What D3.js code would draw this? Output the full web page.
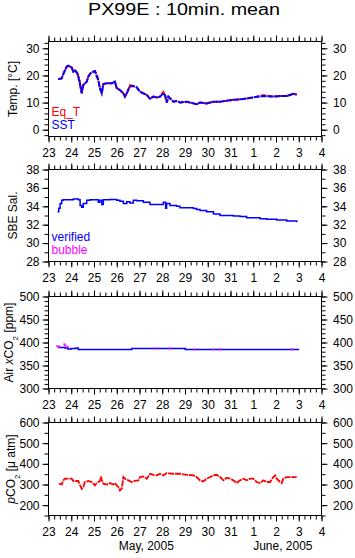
<!DOCTYPE html>
<html>
<head>
<meta charset="utf-8">
<script src="https://cdn.jsdelivr.net/npm/d3@7"></script>
<style>
  body { margin: 0; background: #fff; }
  svg { display: block; font-family: "Liberation Sans", Arial, sans-serif; }
  .tick text { font-size: 12px; fill: #000; }
</style>
</head>
<body>
<svg id="chart" width="355" height="558"></svg>
<script>
/**********************
 Data (day of May 2005)
**********************/
// temperature panel
var tempDay = [23.43, 23.58, 23.65, 23.73, 23.80, 23.87, 24.02, 24.09, 24.17, 24.27, 24.36, 24.46, 24.53, 24.68, 24.75,
  24.85, 24.97, 25.04, 25.12, 25.19, 25.26, 25.34, 25.41, 25.56, 25.78, 25.92, 26.00, 26.14, 26.29, 26.36, 26.44,
  26.58, 26.73, 26.88, 27.02, 27.17, 27.32, 27.46, 27.61, 27.76, 27.90, 28.05, 28.12, 28.20, 28.27, 28.34, 28.49,
  28.63, 28.78, 29.07, 29.37, 29.51, 29.66, 29.95, 30.25, 30.54, 30.83, 31.13, 31.56, 32.00, 32.44, 32.88, 33.18,
  33.47, 33.76, 33.91];
var sst = [18.7, 18.9, 20.5, 22.0, 23.2, 23.6, 22.9, 21.4, 21.8, 20.8, 17.7, 13.4, 16.5, 17.7, 19.6,
  20.8, 21.4, 21.6, 19.6, 18.3, 15.3, 13.4, 16.8, 17.1, 17.1, 17.7, 15.3, 14.6, 13.4, 12.2, 13.4,
  15.9, 16.1, 15.6, 14.0, 13.4, 12.8, 11.4, 12.2, 11.9, 12.2, 13.4, 12.8, 10.0, 12.2, 11.6, 10.3,
  10.6, 10.0, 10.3, 9.7, 9.4, 10.0, 9.7, 10.3, 10.3, 10.7, 11.0, 11.3, 11.9, 12.4, 12.2, 12.4,
  12.4, 13.2, 13.0];
var eqT = [18.7, 18.9, 20.5, 22.0, 23.2, 23.6, 22.9, 21.4, 21.8, 20.8, 18.6, 13.4, 16.5, 17.7, 19.6,
  20.8, 21.4, 21.6, 20.6, 18.3, 15.3, 13.4, 16.8, 17.1, 17.1, 17.7, 15.3, 14.6, 13.4, 12.2, 13.4,
  16.4, 16.1, 15.6, 14.0, 13.4, 12.8, 11.4, 12.2, 11.9, 12.2, 13.9, 12.8, 10.0, 12.2, 11.6, 10.3,
  10.6, 10.0, 10.3, 9.7, 9.4, 10.0, 9.7, 10.3, 10.3, 10.7, 11.0, 11.3, 11.9, 12.7, 12.2, 12.4,
  12.4, 13.2, 13.0];

// salinity panel
var salDay = [23.43, 23.45, 23.51, 23.58, 23.65, 23.80, 24.09, 24.24, 24.31, 24.39, 24.46, 24.53, 24.68, 24.82,
  25.12, 25.19, 25.26, 25.34, 25.41, 25.70, 26.00, 26.14, 26.29, 26.44, 26.58, 26.73, 26.88, 27.17, 27.46,
  27.76, 28.05, 28.15, 28.19, 28.34, 28.49, 28.63, 28.78, 29.07, 29.37, 29.51, 29.66, 29.95, 30.25, 30.54,
  30.83, 31.13, 31.42, 31.71, 32.00, 32.30, 32.59, 33.03, 33.47, 33.91];
var salVerified = [33.4, 33.8, 34.3, 34.65, 34.7, 34.7, 34.8, 34.8, 34.7, 34.1, 33.9, 34.3, 34.65, 34.7,
  34.7, 34.45, 34.65, 34.2, 34.7, 34.75, 34.65, 34.55, 34.3, 34.5, 34.35, 34.65, 34.6, 34.45, 34.2,
  34.2, 34.45, 33.8, 34.3, 34.1, 34.1, 34.0, 33.85, 33.85, 33.75, 33.65, 33.55, 33.4, 33.15, 33.0,
  33.0, 32.95, 32.9, 32.75, 32.75, 32.65, 32.6, 32.5, 32.4, 32.35];

// air xCO2 panel
var airDay = [23.45, 23.65, 23.72, 23.85, 24.00, 24.20, 24.30, 24.31, 26.65, 26.66, 29.00, 29.01, 33.98];
var airVerified = [389, 389, 388, 386, 387, 388, 387, 385, 385, 387, 387, 385, 385];
var bubbleDay = [23.39, 23.47, 23.70, 23.75, 23.85, 27.75, 28.34, 29.45, 30.25, 30.56, 33.70];
var bubbleVal = [392, 391, 396, 393, 390, 387, 387, 385, 385, 385, 385];

// pCO2 panel (null splits the lone first point from the rest)
var pco2Day = [23.43, 23.44, 23.46, 23.58, 23.65, 23.73, 24.02, 24.09, 24.31, 24.39, 24.46, 24.53, 24.60, 24.75,
  24.90, 25.04, 25.12, 25.26, 25.31, 25.34, 25.41, 25.56, 25.70, 25.85, 25.92, 26.00, 26.07, 26.14, 26.22,
  26.29, 26.36, 26.51, 26.66, 26.80, 26.95, 27.02, 27.17, 27.32, 27.46, 27.61, 27.76, 27.90, 28.05, 28.19,
  28.49, 28.78, 29.07, 29.37, 29.51, 29.66, 29.81, 29.95, 30.10, 30.25, 30.39, 30.54, 30.69, 30.83, 30.98,
  31.13, 31.27, 31.42, 31.56, 31.71, 31.86, 32.00, 32.15, 32.30, 32.44, 32.59, 32.74, 32.88, 32.96, 33.03,
  33.18, 33.25, 33.32, 33.47, 33.62, 33.91];
var pco2 = [349, null, 304, 300, 320, 328, 328, 317, 317, 296, 279, 288, 312, 317,
  312, 296, 307, 317, 339, 323, 304, 300, 307, 300, 307, 296, 288, 271, 280,
  336, 328, 320, 312, 317, 320, 336, 339, 328, 352, 347, 344, 352, 344, 355,
  352, 352, 347, 344, 336, 320, 315, 328, 336, 344, 347, 336, 320, 333, 328,
  320, 307, 320, 328, 320, 328, 328, 312, 307, 320, 312, 312, 336, 344, 328,
  312, 307, 328, 336, 336, 336];

/**********************
 Layout
**********************/
var svg = d3.select('#chart');
var left = 48.5, right = 321.5;
var blue = '#0000ff', red = '#ff0000', magenta = '#ff00ff';

function toDate(d) {
  return new Date(Date.UTC(2005, 4, 1) + (d - 1) * 864e5);
}

var xScale = d3.scaleUtc()
  .domain([toDate(23), toDate(35)])
  .range([left, right]);

svg.append('text')
  .attr('x', 184).attr('y', 14.5)
  .attr('text-anchor', 'middle')
  .attr('font-size', 16)
  .attr('textLength', 192)
  .attr('lengthAdjust', 'spacingAndGlyphs')
  .text('PX99E : 10min. mean');

function drawPanel(p) {
  var y = d3.scaleLinear().domain(p.domain).range([p.bottom, p.top]);
  var g = svg.append('g');

  // minor + major ticks on all four sides
  var sides = [
    [d3.axisLeft, 'translate(' + left + ',0)', y],
    [d3.axisRight, 'translate(' + right + ',0)', y],
    [d3.axisTop, 'translate(0,' + p.top + ')', xScale],
    [d3.axisBottom, 'translate(0,' + p.bottom + ')', xScale]
  ];
  sides.forEach(function(s, i) {
    var isY = i < 2;
    var minor = s[0](s[2]).tickSize(4).tickFormat('');
    var major = s[0](s[2]).tickSize(6);
    if (isY) {
      minor.tickValues(p.minor);
      major.tickValues(p.major).tickPadding(i === 0 ? 3 : 5.5);
    } else {
      minor.ticks(d3.utcHour.every(6));
      major.ticks(d3.utcDay.every(1)).tickPadding(6);
      if (i === 2) major.tickFormat('');
      else major.tickFormat(d3.utcFormat('%-d'));
    }
    var ga = g.append('g').attr('transform', s[1]).call(minor);
    ga.select('.domain').remove();
    var gb = g.append('g').attr('transform', s[1]).call(major);
    gb.select('.domain').remove();
    gb.selectAll('text').attr('font-family', null);
  });

  g.append('rect')
    .attr('x', left).attr('y', p.top)
    .attr('width', right - left).attr('height', p.bottom - p.top)
    .attr('fill', 'none').attr('stroke', '#000');

  var clip = 'clip' + p.id;
  svg.append('clipPath').attr('id', clip).append('rect')
    .attr('x', left).attr('y', p.top)
    .attr('width', right - left).attr('height', p.bottom - p.top);
  var plot = g.append('g').attr('clip-path', 'url(#' + clip + ')');

  p.series.forEach(function(s) {
    var pts = s.days.map(function(d, i) { return [toDate(d), s.vals[i]]; });
    if (s.dots) {
      plot.selectAll(null).data(pts).enter().append('rect')
        .attr('x', function(d) { return xScale(d[0]) - 1; })
        .attr('y', function(d) { return y(d[1]) - 1; })
        .attr('width', 2).attr('height', 2)
        .attr('fill', s.color);
      return;
    }
    var line = d3.line()
      .defined(function(d) { return d[1] !== null; })
      .curve(s.step ? d3.curveStepAfter : d3.curveLinear)
      .x(function(d) { return xScale(d[0]); })
      .y(function(d) { return y(d[1]); });
    plot.append('path')
      .datum(pts)
      .attr('d', line)
      .attr('fill', 'none')
      .attr('stroke', s.color)
      .attr('stroke-width', s.width || 1.5)
      .attr('stroke-linecap', s.dash ? 'butt' : 'square')
      .attr('stroke-dasharray', s.dash || null);
  });

  // y axis title
  var t = svg.append('text')
    .attr('transform', 'translate(' + p.labelX + ',' + ((p.top + p.bottom) / 2) + ') rotate(-90)')
    .attr('text-anchor', 'middle')
    .attr('font-size', 12);
  p.label.forEach(function(part) {
    var ts = t.append('tspan').text(part.t);
    if (part.it) ts.attr('font-style', 'italic');
    if (part.sub) ts.attr('baseline-shift', 'sub').attr('font-size', 8);
  });

  // legend text
  (p.legend || []).forEach(function(l, i) {
    svg.append('text')
      .attr('x', 51.5).attr('y', p.bottom - 21 + i * 13.5)
      .attr('font-size', 12)
      .attr('fill', l.color)
      .text(l.text);
  });
}

drawPanel({
  id: 1, top: 41.5, bottom: 136.5, domain: [-2.5, 32.5],
  major: [0, 10, 20, 30], minor: d3.range(-2, 33, 2),
  labelX: 17, label: [{t: 'Temp. [°C]'}],
  legend: [{text: 'Eq_T', color: red}, {text: 'SST', color: blue}],
  series: [
    {days: tempDay, vals: eqT, color: red, width: 2, dash: '5 1.5'},
    {days: tempDay, vals: sst, color: blue, width: 2, dash: '6 1'}
  ]
});

drawPanel({
  id: 2, top: 169.5, bottom: 261.5, domain: [28, 38],
  major: d3.range(28, 39, 2), minor: d3.range(28, 39, 1),
  labelX: 17, label: [{t: 'SBE Sal.'}],
  legend: [{text: 'verified', color: blue}, {text: 'bubble', color: magenta}],
  series: [
    {days: salDay, vals: salVerified, color: blue, step: true, width: 1.5}
  ]
});

drawPanel({
  id: 3, top: 296.5, bottom: 388.5, domain: [300, 500],
  major: d3.range(300, 501, 50), minor: d3.range(300, 501, 10),
  labelX: 13, label: [{t: 'Air '}, {t: 'x', it: true}, {t: 'CO'}, {t: '2', sub: true}, {t: ' [ppm]'}],
  series: [
    {days: airDay, vals: airVerified, color: blue, step: true, width: 1.5},
    {days: bubbleDay, vals: bubbleVal, color: magenta, dots: true}
  ]
});

drawPanel({
  id: 4, top: 422.5, bottom: 515.5, domain: [150, 600],
  major: d3.range(200, 601, 100), minor: d3.range(150, 601, 50),
  labelX: 15, label: [{t: 'p', it: true}, {t: 'CO'}, {t: '2', sub: true}, {t: ' [μ atm]'}],
  series: [
    {days: pco2Day, vals: pco2, color: red, width: 1.8, dash: '6 1'}
  ]
});

// month labels under the last panel
svg.append('text')
  .attr('x', xScale(toDate(27.3))).attr('y', 550)
  .attr('text-anchor', 'middle').attr('font-size', 12)
  .text('May, 2005');
svg.append('text')
  .attr('x', xScale(toDate(33.3))).attr('y', 550)
  .attr('text-anchor', 'middle').attr('font-size', 12)
  .text('June, 2005');
</script>
</body>
</html>
